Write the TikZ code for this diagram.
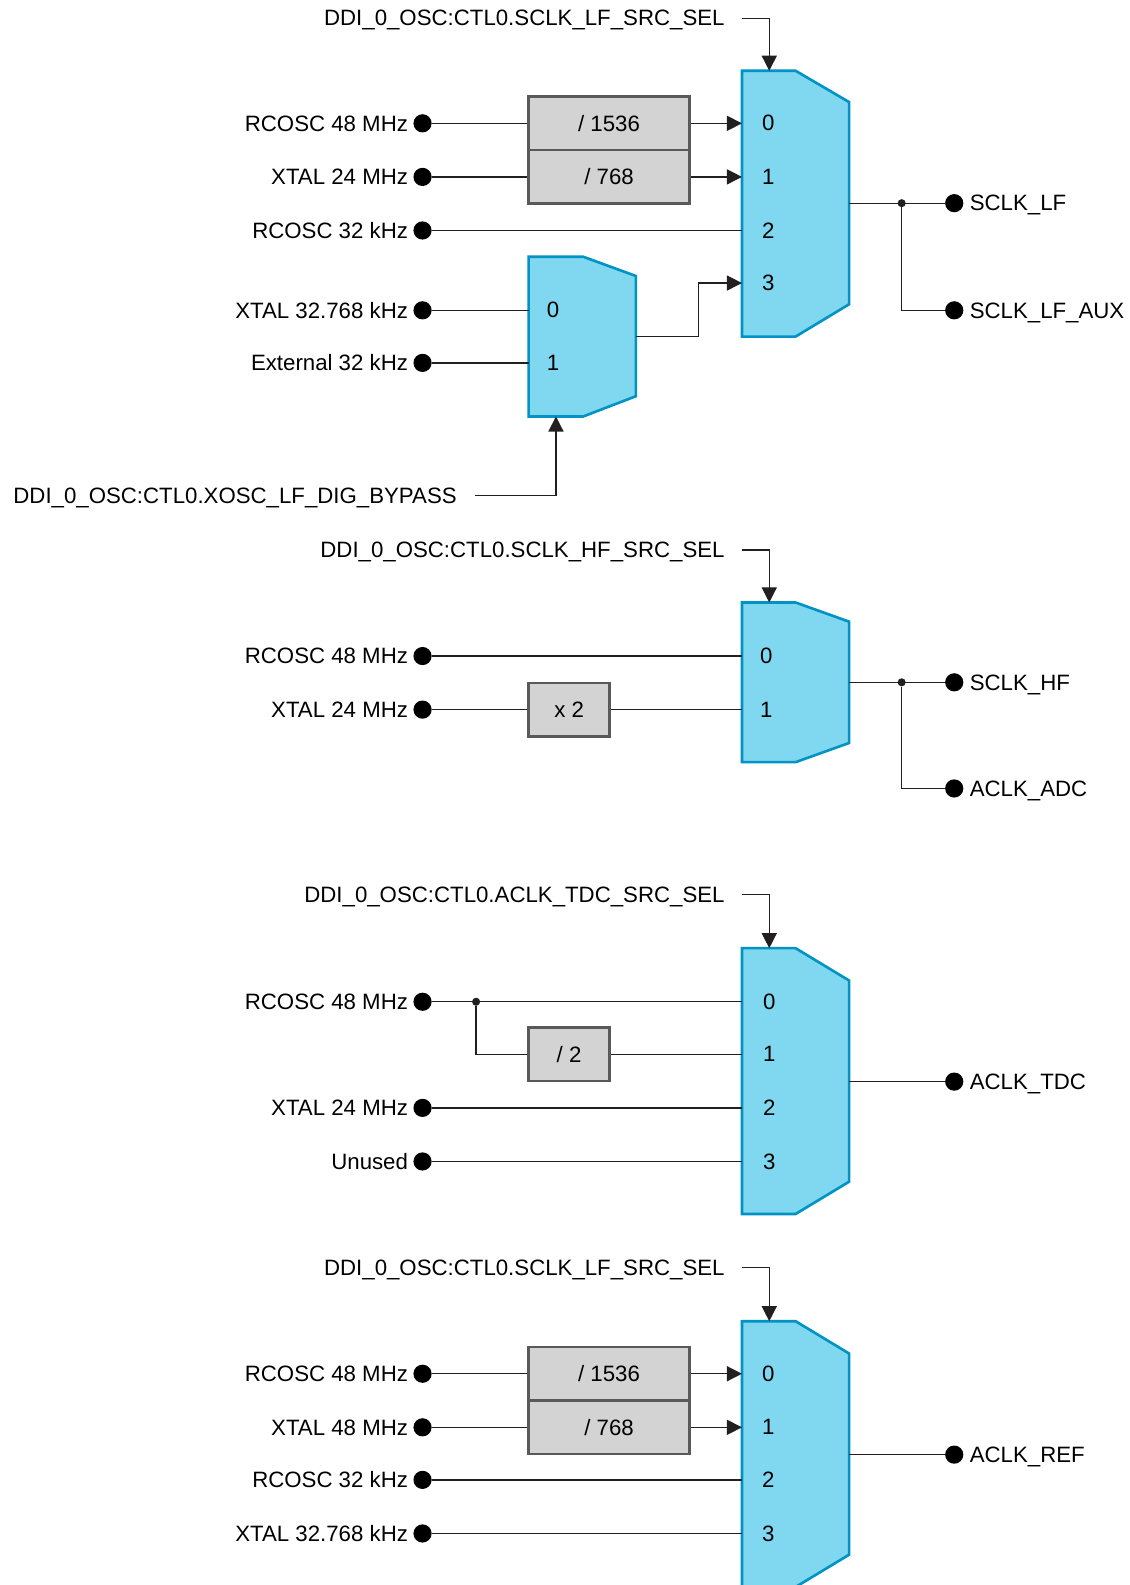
\documentclass[tikz,border=0pt]{standalone}
\usepackage{fontspec}
\setmainfont{Liberation Sans}
\usetikzlibrary{arrows.meta,positioning}
\definecolor{muxfill}{RGB}{128,216,240}
\definecolor{muxline}{RGB}{0,147,196}
\definecolor{boxfill}{RGB}{211,211,211}
\definecolor{boxline}{RGB}{89,89,89}
\definecolor{wirecol}{RGB}{35,31,32}

\begin{document}
\begin{tikzpicture}[x=1pt,y=-1pt,>={Triangle[length=15pt,width=15pt]},
every node/.style={font=\fontsize{22}{26}\selectfont,text=black},
wire/.style={draw=wirecol,line width=1.3pt},
mux/.style={fill=muxfill,draw=muxline,line width=2.6pt,line join=miter},
divbox/.style={draw=boxline,fill=boxfill,line width=2.6pt,minimum width=159pt,minimum height=53pt,inner sep=0pt},
smallbox/.style={divbox,minimum width=80pt},
pin/.style={circle,fill=black,minimum size=18pt,inner sep=0pt},
joint/.style={circle,fill=wirecol,minimum size=8pt,inner sep=0pt},
inlabel/.style={label={[label distance=5pt,inner sep=0pt,text depth=0pt]left:#1}},
outlabel/.style={label={[label distance=6pt,inner sep=0pt,text depth=0pt]right:#1}},
sellabel/.style={anchor=east,inner sep=0pt,text depth=0pt}]
\useasboundingbox (0,0) rectangle (1117,1568);

% SCLK_LF
\draw[mux] (734,70) -- (787,70) -- (840,101) -- (840,301) -- (787,333) -- (734,333) -- cycle;
\coordinate (mA-sel) at (761,70);
\coordinate (mA-0) at (734,122);
\coordinate (mA-1) at (734,175);
\coordinate (mA-2) at (734,228);
\coordinate (mA-3) at (734,280);
\coordinate (mA-out) at (840,201);
\foreach \i/\y in {0/122,1/175,2/228,3/280}
  \node (mA-l\i) at (760,\y) {\i};

\node[sellabel] (selA) at (717,18) {DDI\_0\_OSC:CTL0.SCLK\_LF\_SRC\_SEL};
\draw[wire,->] ([xshift=17pt]selA.east) -| (mA-sel);

\node[pin,inlabel=RCOSC 48 MHz] (rcA) at (418,122) {};
\node[pin,inlabel=XTAL 24 MHz] (xtA) at (418,175) {};
\node[pin,inlabel=RCOSC 32 kHz] (rlA) at (418,228) {};
\node[pin,inlabel=XTAL 32.768 kHz] (xlA) at (418,307) {};
\node[pin,inlabel=External 32 kHz] (exA) at (418,359) {};

\node[divbox] (divA1) at (602.5,122) {/ 1536};
\node[divbox] (divA2) at (602.5,175) {/ 768};

\draw[wire] (rcA) -- (divA1);
\draw[wire,->] (divA1) -- (mA-0);
\draw[wire] (xtA) -- (divA2);
\draw[wire,->] (divA2) -- (mA-1);
\draw[wire] (rlA) -- (mA-2);

% XOSC_LF bypass mux
\draw[mux] (523,254) -- (577,254) -- (629,273) -- (629,392) -- (577,412) -- (523,412) -- cycle;
\coordinate (mB-0) at (523,307);
\coordinate (mB-1) at (523,359);
\coordinate (mB-out) at (629,333);
\coordinate (mB-sel) at (550,412);
\node (mB-l0) at (547,307) {0};
\node (mB-l1) at (547,359) {1};

\draw[wire] (xlA) -- (mB-0);
\draw[wire] (exA) -- (mB-1);
\draw[wire,->] (mB-out) -- ++(62,0) |- (mA-3);

\node[sellabel] (selB) at (452,490) {DDI\_0\_OSC:CTL0.XOSC\_LF\_DIG\_BYPASS};
\draw[wire,->] ([xshift=18pt]selB.east) -| (mB-sel);

\node[joint] (jA) at (892,201) {};
\node[pin,outlabel=SCLK\_LF] (sclklf) at (944,201) {};
\node[pin,outlabel=SCLK\_LF\_AUX] (sclklfaux) at (944,307) {};
\draw[wire] (mA-out) -- (sclklf);
\draw[wire] (jA) |- (sclklfaux);

% SCLK_HF
\draw[mux] (734,596) -- (787,596) -- (840,615) -- (840,735) -- (787,754) -- (734,754) -- cycle;
\coordinate (mC-sel) at (761,596);
\coordinate (mC-0) at (734,649);
\coordinate (mC-1) at (734,702);
\coordinate (mC-out) at (840,675);
\node (mC-l0) at (758,649) {0};
\node (mC-l1) at (758,702) {1};

\node[sellabel] (selC) at (717,544) {DDI\_0\_OSC:CTL0.SCLK\_HF\_SRC\_SEL};
\draw[wire,->] ([xshift=17pt]selC.east) -| (mC-sel);

\node[pin,inlabel=RCOSC 48 MHz] (rcC) at (418,649) {};
\node[pin,inlabel=XTAL 24 MHz] (xtC) at (418,702) {};
\node[smallbox] (mulC) at (563,702) {x 2};

\draw[wire] (rcC) -- (mC-0);
\draw[wire] (xtC) -- (mulC);
\draw[wire] (mulC) -- (mC-1);

\node[joint] (jC) at (892,675) {};
\node[pin,outlabel=SCLK\_HF] (sclkhf) at (944,675) {};
\node[pin,outlabel=ACLK\_ADC] (aclkadc) at (944,780) {};
\draw[wire] (mC-out) -- (sclkhf);
\draw[wire] (jC) |- (aclkadc);

% ACLK_TDC
\draw[mux] (734,938) -- (787,938) -- (840,970) -- (840,1169) -- (787,1201) -- (734,1201) -- cycle;
\coordinate (mD-sel) at (761,938);
\coordinate (mD-0) at (734,991);
\coordinate (mD-1) at (734,1043);
\coordinate (mD-2) at (734,1096);
\coordinate (mD-3) at (734,1149);
\coordinate (mD-out) at (840,1070);
\foreach \i/\y in {0/991,1/1043,2/1096,3/1149}
  \node (mD-l\i) at (761,\y) {\i};

\node[sellabel] (selD) at (717,885) {DDI\_0\_OSC:CTL0.ACLK\_TDC\_SRC\_SEL};
\draw[wire,->] ([xshift=17pt]selD.east) -| (mD-sel);

\node[pin,inlabel=RCOSC 48 MHz] (rcD) at (418,991) {};
\node[pin,inlabel=XTAL 24 MHz] (xtD) at (418,1096) {};
\node[pin,inlabel=Unused] (unD) at (418,1149) {};
\node[joint] (jD) at (471,991) {};
\node[smallbox] (divD) at (563,1043) {/ 2};

\draw[wire] (rcD) -- (mD-0);
\draw[wire] (jD) |- (divD);
\draw[wire] (divD) -- (mD-1);
\draw[wire] (xtD) -- (mD-2);
\draw[wire] (unD) -- (mD-3);

\node[pin,outlabel=ACLK\_TDC] (aclktdc) at (944,1070) {};
\draw[wire] (mD-out) -- (aclktdc);

% ACLK_REF
\draw[mux] (734,1307) -- (787,1307) -- (840,1339) -- (840,1538) -- (787,1570) -- (734,1570) -- cycle;
\coordinate (mE-sel) at (761,1307);
\coordinate (mE-0) at (734,1359);
\coordinate (mE-1) at (734,1412);
\coordinate (mE-2) at (734,1464);
\coordinate (mE-3) at (734,1517);
\coordinate (mE-out) at (840,1439);
\foreach \i/\y in {0/1359,1/1412,2/1464,3/1517}
  \node (mE-l\i) at (760,\y) {\i};

\node[sellabel] (selE) at (717,1254) {DDI\_0\_OSC:CTL0.SCLK\_LF\_SRC\_SEL};
\draw[wire,->] ([xshift=17pt]selE.east) -| (mE-sel);

\node[pin,inlabel=RCOSC 48 MHz] (rcE) at (418,1359) {};
\node[pin,inlabel=XTAL 48 MHz] (xtE) at (418,1412) {};
\node[pin,inlabel=RCOSC 32 kHz] (rlE) at (418,1464) {};
\node[pin,inlabel=XTAL 32.768 kHz] (xlE) at (418,1517) {};

\node[divbox] (divE1) at (602.5,1359) {/ 1536};
\node[divbox] (divE2) at (602.5,1412) {/ 768};

\draw[wire] (rcE) -- (divE1);
\draw[wire,->] (divE1) -- (mE-0);
\draw[wire] (xtE) -- (divE2);
\draw[wire,->] (divE2) -- (mE-1);
\draw[wire] (rlE) -- (mE-2);
\draw[wire] (xlE) -- (mE-3);

\node[pin,outlabel=ACLK\_REF] (aclkref) at (944,1439) {};
\draw[wire] (mE-out) -- (aclkref);

\end{tikzpicture}
\end{document}
